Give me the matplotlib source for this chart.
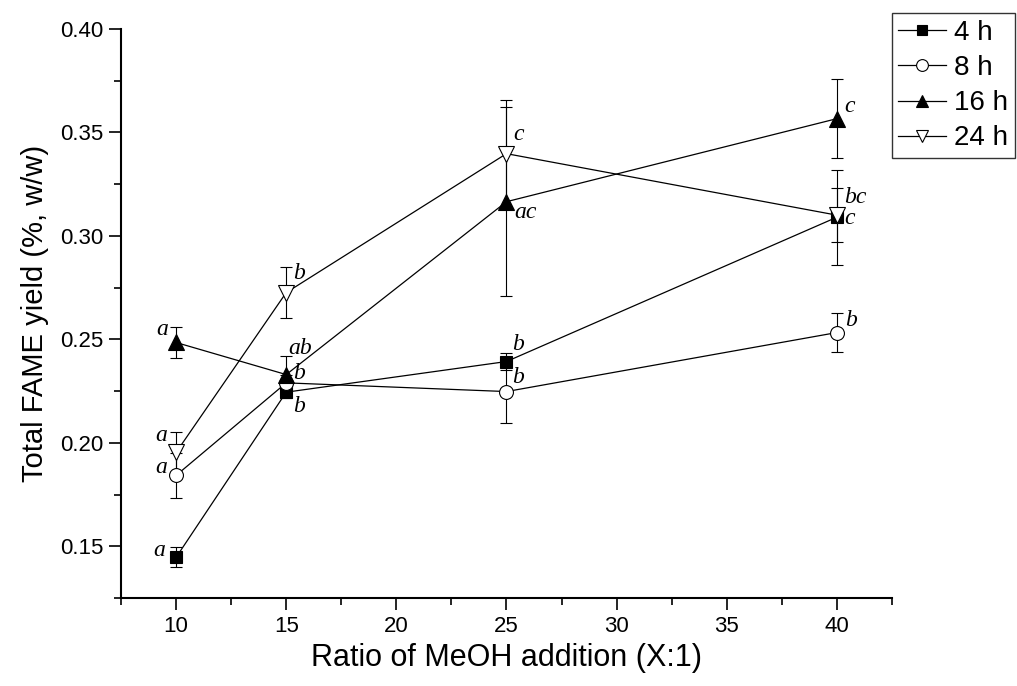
import matplotlib
matplotlib.use("Agg")
import matplotlib.pyplot as plt
from matplotlib.ticker import MultipleLocator, FormatStrFormatter

# methanol ratio (X:1)
ratio = [10, 15, 25, 40]

# total FAME yield per reaction time, with standard deviations
y_4h = [0.1447, 0.2245, 0.2393, 0.3090]
e_4h = [0.0048, 0.0030, 0.0040, 0.0230]
y_8h = [0.1843, 0.2290, 0.2248, 0.2533]
e_8h = [0.0110, 0.0040, 0.0150, 0.0093]
y_16h = [0.2485, 0.2330, 0.3165, 0.3566]
e_16h = [0.0075, 0.0090, 0.0455, 0.0190]
y_24h = [0.1954, 0.2726, 0.3397, 0.3100]
e_24h = [0.0100, 0.0125, 0.0260, 0.0130]

# significance letters
lab_4h = ["a", "b", "b", "c"]
lab_8h = ["a", "b", "b", "b"]
lab_16h = ["a", "ab", "ac", "c"]
lab_24h = ["a", "b", "c", "bc"]

series = [
    ("4 h", y_4h, e_4h, lab_4h, dict(marker="s", mfc="black", ms=8.5)),
    ("8 h", y_8h, e_8h, lab_8h, dict(marker="o", mfc="white", ms=10)),
    ("16 h", y_16h, e_16h, lab_16h, dict(marker="^", mfc="black", ms=11)),
    ("24 h", y_24h, e_24h, lab_24h, dict(marker="v", mfc="white", ms=11)),
]

# letter offsets (points) per series, per x position
offsets = {
    "4 h": [(-12, 5), (9, -10), (8, 12), (9, -1)],
    "8 h": [(-11, 6), (9, 7), (8, 10), (10, 9)],
    "16 h": [(-10, 9), (10, 19), (14, -8), (9, 9)],
    "24 h": [(-11, 12), (9, 14), (9, 14), (13, 13)],
}

plt.rcParams["font.family"] = ["Liberation Sans", "DejaVu Sans"]

fig = plt.figure(figsize=(10.17, 6.86), dpi=100)
ax = fig.add_axes([0.119, 0.128, 0.758, 0.830])

handles = []
for name, ys, es, labs, st in series:
    ax.errorbar(ratio, ys, yerr=es, fmt="none", ecolor="black", elinewidth=0.8,
                capsize=4.5, capthick=0.8, zorder=2)
    h, = ax.plot(ratio, ys, color="black", lw=0.9, mec="black", mew=0.8,
                 label=name, zorder=3, **st)
    handles.append(h)
    for xv, yv, lab, off in zip(ratio, ys, labs, offsets[name]):
        ax.annotate(lab, (xv, yv), xytext=off, textcoords="offset points",
                    ha="center", va="center", fontsize=17, style="italic",
                    family="Liberation Serif", zorder=4)

ax.set_xlim(7.5, 42.5)
ax.set_ylim(0.125, 0.40)
ax.set_xticks([10, 15, 20, 25, 30, 35, 40])
ax.xaxis.set_minor_locator(MultipleLocator(2.5))
ax.yaxis.set_major_locator(MultipleLocator(0.05))
ax.yaxis.set_minor_locator(MultipleLocator(0.025))
ax.yaxis.set_major_formatter(FormatStrFormatter("%.2f"))
for s in ("top", "right"):
    ax.spines[s].set_visible(False)
for s in ("left", "bottom"):
    ax.spines[s].set_linewidth(1.5)
ax.tick_params(which="major", direction="out", length=8.5, width=1.2,
               labelsize=16, pad=4)
ax.tick_params(which="minor", direction="out", length=5, width=1.2)

ax.set_xlabel("Ratio of MeOH addition (X:1)", fontsize=22, labelpad=5)
ax.set_ylabel("Total FAME yield (%, w/w)", fontsize=21, labelpad=8)

leg = fig.legend(handles=handles, loc="upper right", bbox_to_anchor=(0.998, 0.981),
                 fontsize=20, frameon=True, fancybox=False, handlelength=1.7,
                 handletextpad=0.3, borderpad=0.25, labelspacing=0.33,
                 borderaxespad=0, markerscale=0.85)
leg.get_frame().set_edgecolor("black")
leg.get_frame().set_linewidth(1.0)

fig.savefig("out.png", dpi=100)
